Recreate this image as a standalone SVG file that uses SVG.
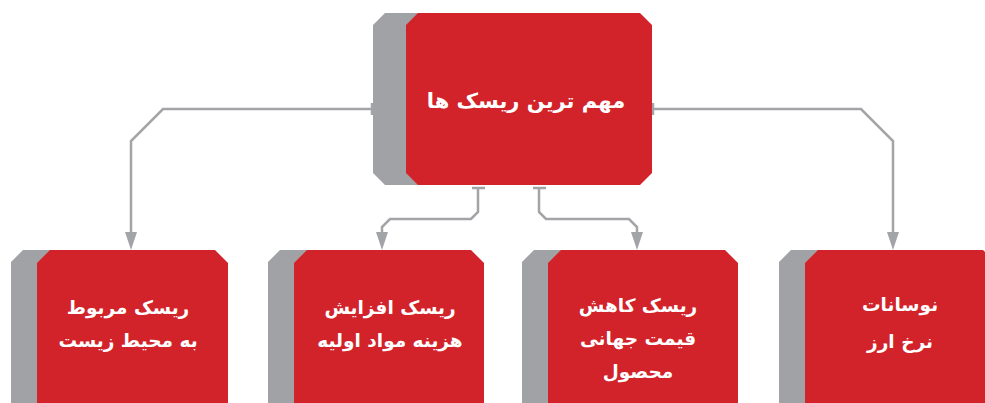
<svg xmlns="http://www.w3.org/2000/svg" width="985" height="403" viewBox="0 0 985 403">
<style>
.g{fill:#a1a2a6}
.r{fill:#d2232a}
.t{fill:#ffffff;font-family:"DejaVu Sans",sans-serif;font-weight:bold;text-anchor:middle}
.c{fill:none;stroke:#a3a4a8;stroke-width:2.5;stroke-linejoin:miter}
.k{fill:none;stroke:#a3a4a8;stroke-width:2.5}
.a{fill:#a3a4a8}
</style>
<rect width="985" height="403" fill="#ffffff"/>
<g id="connectors">
<path class="c" d="M372,109 H163 L131,141 V233"/>
<path class="c" d="M652,109 H861 L893,141 V233"/>
<path class="c" d="M478,188 V212 L471,219 H390 L382,227 V233"/>
<path class="c" d="M539,188 V212 L546,219 H629 L637,227 V233"/>
<path class="a" d="M125,232 H137 L131,250 Z"/>
<path class="a" d="M887,232 H899 L893,250 Z"/>
<path class="a" d="M376,232 H388 L382,250 Z"/>
<path class="a" d="M631,232 H643 L637,250 Z"/>
<path class="k" d="M372,103 V115"/>
<path class="k" d="M653,103 V115"/>
<path class="k" d="M472,188 H485"/>
<path class="k" d="M533,188 H546"/>
</g>
<g id="node-top">
<path class="g" d="M385,13 H620 V185 H385 L373,173 V25 Z"/>
<path class="r" d="M418,13 H640 L652,25 V173 L640,185 H418 L406,173 V25 Z"/>
<text class="t" x="526" y="108" font-size="21">مهم ترین ریسک ها</text>
</g>
<g id="node-1">
<path class="g" d="M23,250 H200 V420 H23 L11,408 V262 Z"/>
<path class="r" d="M50,250 H215 L228,263 V420 H50 L37,407 V263 Z"/>
<text class="t" x="128" y="314" font-size="18.5">ریسک مربوط</text>
<text class="t" x="128" y="347" font-size="18.5">به محیط زیست</text>
</g>
<g id="node-2">
<path class="g" d="M280,250 H460 V420 H280 L268,408 V262 Z"/>
<path class="r" d="M307,250 H471 L484,263 V420 H307 L294,407 V263 Z"/>
<text class="t" x="390" y="314" font-size="18.5">ریسک افزایش</text>
<text class="t" x="390" y="347" font-size="18.5">هزینه مواد اولیه</text>
</g>
<g id="node-3">
<path class="g" d="M534,250 H710 V420 H534 L522,408 V262 Z"/>
<path class="r" d="M561,250 H725 L738,263 V420 H561 L548,407 V263 Z"/>
<text class="t" x="638" y="312" font-size="18.5">ریسک کاهش</text>
<text class="t" x="638" y="345" font-size="18.5">قیمت جهانی</text>
<text class="t" x="638" y="378" font-size="18.5">محصول</text>
</g>
<g id="node-4">
<path class="g" d="M791,250 H970 V420 H791 L779,408 V262 Z"/>
<path class="r" d="M818,250 H983 L996,263 V420 H818 L805,407 V263 Z"/>
<text class="t" x="900" y="311" font-size="18.5">نوسانات</text>
<text class="t" x="900" y="348" font-size="18.5">نرخ ارز</text>
</g>
</svg>
